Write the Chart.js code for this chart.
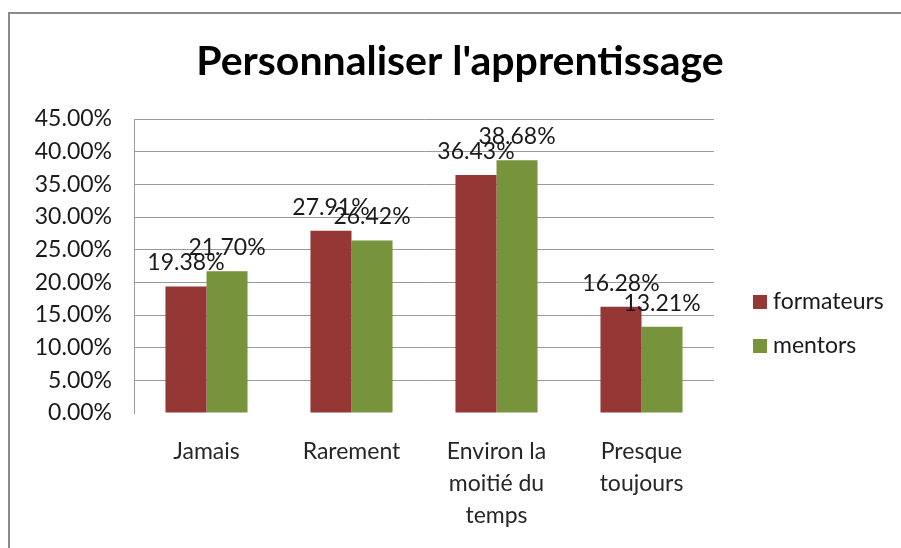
<!DOCTYPE html>
<html>
<head>
<meta charset="utf-8">
<script src="https://cdn.jsdelivr.net/npm/chart.js@4"></script>
<style>
  html, body { margin: 0; padding: 0; background: #fff; overflow: hidden; }
  #frame { position: absolute; left: 8px; top: 12px; width: 1000px; height: 700px; border: 2px solid #8a8a8a; }
  #wrap { position: absolute; left: 0; top: 0; width: 901px; height: 548px; }
</style>
</head>
<body>
<div id="frame"></div>
<div id="wrap"><canvas id="graph"></canvas></div>
<script>
// Réponses à la question « Personnaliser l'apprentissage »
const chartTitle = "Personnaliser l'apprentissage";
const categories = [['Jamais'], ['Rarement'], ['Environ la', 'moitié du', 'temps'], ['Presque', 'toujours']];
const formateurs = [19.38, 27.91, 36.43, 16.28];
const mentors = [21.70, 26.42, 38.68, 13.21];
const seriesNames = ['formateurs', 'mentors'];
const seriesColors = ['#953735', '#77933C'];

const FONT = 'Lato, "Open Sans", sans-serif';

// Titre centré sur toute la zone (graphique + légende)
const bigTitle = {
    id: 'bigTitle',
    afterDraw(chart) {
        const ctx = chart.ctx;
        ctx.save();
        ctx.font = 'bold 41px ' + FONT;
        ctx.fillStyle = '#000';
        ctx.textAlign = 'center';
        ctx.textBaseline = 'alphabetic';
        ctx.fillText(chartTitle, 460, 75);
        ctx.restore();
    }
};

// Étiquettes de valeur au-dessus des barres
const valueLabels = {
    id: 'valueLabels',
    afterDatasetsDraw(chart) {
        const ctx = chart.ctx;
        ctx.save();
        ctx.font = '23px ' + FONT;
        ctx.fillStyle = '#1a1a1a';
        ctx.textAlign = 'center';
        ctx.textBaseline = 'alphabetic';
        chart.data.datasets.forEach((ds, i) => {
            chart.getDatasetMeta(i).data.forEach((bar, j) => {
                ctx.fillText(ds.data[j].toFixed(2) + '%', bar.x, bar.y - 16);
            });
        });
        ctx.restore();
    }
};

// Légende à droite du graphique
const sideLegend = {
    id: 'sideLegend',
    afterDraw(chart) {
        const ctx = chart.ctx;
        ctx.save();
        ctx.font = '23px ' + FONT;
        ctx.textBaseline = 'middle';
        ctx.textAlign = 'left';
        chart.data.datasets.forEach((ds, i) => {
            const y = 302 + i * 44;
            ctx.fillStyle = ds.backgroundColor;
            ctx.fillRect(753, y - 7, 14, 14);
            ctx.fillStyle = '#1a1a1a';
            ctx.fillText(ds.label, 773, y);
        });
        ctx.restore();
    }
};

const ctx = document.getElementById('graph').getContext('2d');
new Chart(ctx, {
    type: 'bar',
    data: {
        labels: categories,
        datasets: [
            { label: seriesNames[0], data: formateurs, backgroundColor: seriesColors[0] },
            { label: seriesNames[1], data: mentors, backgroundColor: seriesColors[1] }
        ]
    },
    options: {
        responsive: true,
        maintainAspectRatio: false,
        animation: false,
        devicePixelRatio: 1,
        layout: { padding: { left: 0, right: 187, top: 119, bottom: 0 } },
        datasets: {
            bar: { categoryPercentage: 0.566, barPercentage: 1 }
        },
        plugins: {
            legend: { display: false },
            tooltip: { enabled: false },
            title: { display: false }
        },
        scales: {
            x: {
                grid: { display: false, drawTicks: false },
                border: { display: false },
                ticks: {
                    color: '#262626',
                    padding: 23,
                    maxRotation: 0,
                    autoSkip: false,
                    font: { family: FONT, size: 23, lineHeight: '32px' }
                },
                afterFit(scale) { scale.height = 135; }
            },
            y: {
                min: 0,
                max: 45,
                ticks: {
                    stepSize: 5,
                    color: '#1a1a1a',
                    padding: 22,
                    font: { family: FONT, size: 23 },
                    callback: v => v.toFixed(2) + '%'
                },
                grid: {
                    drawTicks: false,
                    color: c => c.tick && c.tick.value === 0 ? 'rgba(0,0,0,0)' : '#9a9a9a',
                    lineWidth: 1
                },
                border: { display: true, color: '#9a9a9a' },
                afterFit(scale) { scale.width = 134; }
            }
        }
    },
    plugins: [bigTitle, valueLabels, sideLegend]
});
</script>
</body>
</html>
